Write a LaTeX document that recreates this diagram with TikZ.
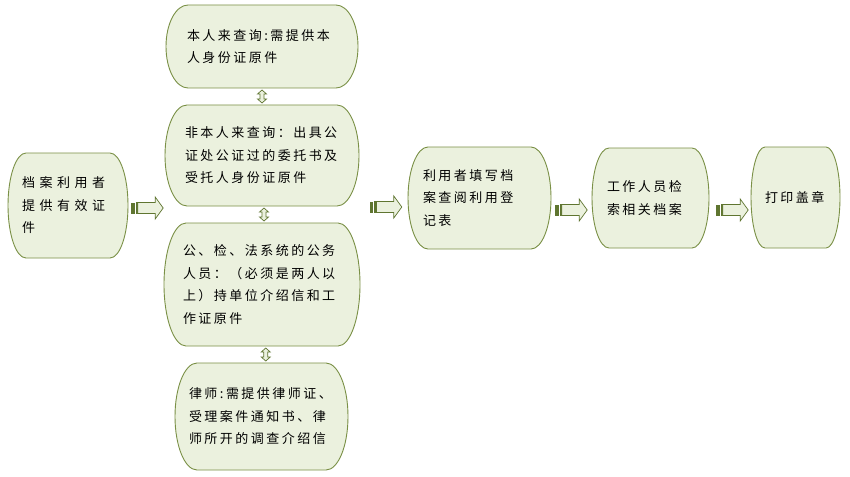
\documentclass[tikz,border=0pt]{standalone}
\usepackage{fontspec}
\newfontfamily\cjk{Noto Sans CJK SC}[LetterSpace=19]
\usetikzlibrary{calc,backgrounds}
\definecolor{boxfill}{HTML}{EBF1DE}
\definecolor{boxline}{HTML}{7A9046}
\definecolor{arrdark}{HTML}{5F7530}
\tikzset{
  boxtext/.style={inner sep=0pt, align=left, font=\cjk\fontsize{13}{22.5}\selectfont, text=black},
  boxshape/.style={draw=boxline, fill=boxfill, line width=0.9pt},
  arrbody/.style={draw=arrdark, fill=boxfill, line width=0.7pt},
  stripearrow/.pic={
    \fill[arrdark] (0,-5.5) rectangle (3.5,5.5);
    \draw[arrdark, fill=boxfill, line width=0.6pt] (4.6,-5.5) rectangle (5.6,5.5);
    \draw[arrbody] (6.6,-5.5) -- (24,-5.5) -- (24,-11) -- (32,0) -- (24,11) -- (24,5.5) -- (6.6,5.5) -- cycle;
  },
  updown/.pic={
    \draw[arrbody] (0,-6.5) -- (4.5,-2.5) -- (2,-2.5) -- (2,2.5) -- (4.5,2.5) -- (0,6.5) -- (-4.5,2.5) -- (-2,2.5) -- (-2,-2.5) -- (-4.5,-2.5) -- cycle;
  }
}
% name, xl, xr, yt, yb, text pad, corner inset, text
\newcommand\cbox[8]{%
  \pgfmathsetmacro\tw{#3-#2-2*#6}%
  \pgfmathsetmacro\cx{(#2+#3)/2}%
  \pgfmathsetmacro\cy{(#4+#5)/2}%
  \pgfmathsetmacro\hh{#5-#4}%
  \node[boxtext, minimum width={(#3-#2)*1pt}, minimum height={(#5-#4)*1pt}, text width=\tw pt] (#1) at (\cx,\cy) {#8};
  \begin{pgfonlayer}{background}
    \draw[boxshape] (#2+#7,#4) -- (#3-#7,#4)
      .. controls (#3-0.448*#7,#4) and (#3,#4+0.224*\hh) .. (#3,\cy)
      .. controls (#3,#5-0.224*\hh) and (#3-0.448*#7,#5) .. (#3-#7,#5)
      -- (#2+#7,#5)
      .. controls (#2+0.448*#7,#5) and (#2,#5-0.224*\hh) .. (#2,\cy)
      .. controls (#2,#4+0.224*\hh) and (#2+0.448*#7,#4) .. cycle;
  \end{pgfonlayer}
}
\begin{document}
\begin{tikzpicture}[x=1pt,y=-1pt]
\begin{pgfonlayer}{background}
  \fill[white] (0,0) rectangle (850,476);
\end{pgfonlayer}
\useasboundingbox (0,0) rectangle (850,476);

\cbox{a}{8}{128}{153}{258}{14}{18}{\addfontfeature{LetterSpace=35}档案利用者\\提供有效证\\件}
\cbox{b1}{166}{358}{5}{88}{21}{22}{本人来查询:需提供本\\人身份证原件}
\cbox{b2}{165}{359}{105}{206}{20}{22}{非本人来查询：出具公\\证处公证过的委托书及\\受托人身份证原件}
\cbox{b3}{164}{360}{223}{346}{19}{22}{公、检、法系统的公务\\人员：（必须是两人以\\上）持单位介绍信和工\\作证原件}
\cbox{b4}{175}{348}{363}{470}{14}{22}{律师:需提供律师证、\\受理案件通知书、律\\师所开的调查介绍信}
\cbox{c}{408}{551}{147}{249}{15}{20}{利用者填写档\\案查阅利用登\\记表}
\cbox{d}{592}{709}{148}{248}{15}{17}{工作人员检\\索相关档案}
\cbox{e}{751}{840}{147}{248}{14}{14}{打印盖章}

% vertical double arrows between the middle boxes
\pic at ($(b1.south)!0.5!(b2.north)$) {updown};
\pic at ($(b2.south)!0.5!(b3.north)+(2,0)$) {updown};
\pic at ($(b3.south)!0.5!(b4.north)+(4,0)$) {updown};

% striped block arrows
\coordinate (a2m) at ($(a.east)+(3,2.5)$);
\coordinate (m2c) at ($(c.west)+(-38,9)$);
\coordinate (c2d) at ($(c.east)+(4,12)$);
\coordinate (d2e) at ($(d.east)+(7,12)$);
\pic at (a2m) {stripearrow};
\pic at (m2c) {stripearrow};
\pic at (c2d) {stripearrow};
\pic at (d2e) {stripearrow};
\end{tikzpicture}
\end{document}
